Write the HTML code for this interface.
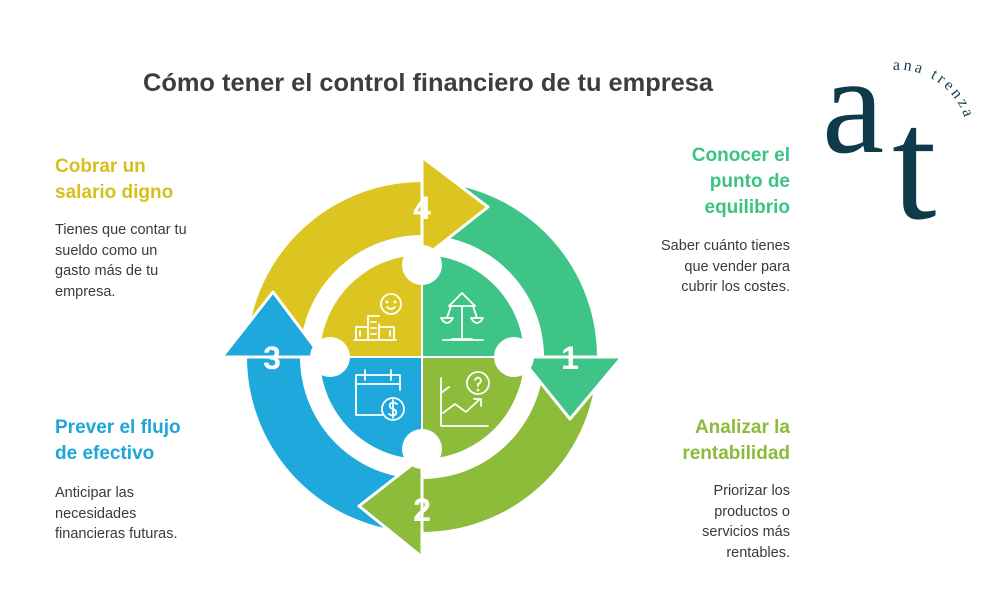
<!DOCTYPE html>
<html><head><meta charset="utf-8"><style>
body{margin:0;width:1000px;height:607px;background:#fff;position:relative;overflow:hidden;font-family:"Liberation Sans",sans-serif}
.t{position:absolute;white-space:nowrap}
.h{font-weight:bold;font-size:19px;line-height:26px}
.b{font-size:14.5px;line-height:20.5px;color:#3a3a3a}
.r{text-align:right}
</style></head><body>
<div class="t" style="left:143px;top:69px;font-size:25.4px;font-weight:bold;color:#3d3d3d">Cómo tener el control financiero de tu empresa</div>

<div class="t h" style="left:55px;top:154px;color:#D6C01E">Cobrar un<br>salario digno</div>
<div class="t b" style="left:55px;top:220px">Tienes que contar tu<br>sueldo como un<br>gasto más de tu<br>empresa.</div>

<div class="t h r" style="right:210px;top:143px;color:#3CC383">Conocer el<br>punto de<br>equilibrio</div>
<div class="t b r" style="right:210px;top:236px">Saber cuánto tienes<br>que vender para<br>cubrir los costes.</div>

<div class="t h" style="left:55px;top:415px;color:#1EA6D9">Prever el flujo<br>de efectivo</div>
<div class="t b" style="left:55px;top:483px">Anticipar las<br>necesidades<br>financieras futuras.</div>

<div class="t h r" style="right:210px;top:415px;color:#8CBA3A">Analizar la<br>rentabilidad</div>
<div class="t b r" style="right:210px;top:481px">Priorizar los<br>productos o<br>servicios más<br>rentables.</div>

<svg width="1000" height="607" style="position:absolute;left:0;top:0">
<g>
<path d="M422 182 A175 175 0 0 1 597 357 L544 357 A122 122 0 0 0 422 235Z" fill="#3EC486"/>
<path d="M597 357 A175 175 0 0 1 422 532 L422 479 A122 122 0 0 0 544 357Z" fill="#8DBB3A"/>
<path d="M422 532 A175 175 0 0 1 247 357 L300 357 A122 122 0 0 0 422 479Z" fill="#1FA8DC"/>
<path d="M247 357 A175 175 0 0 1 422 182 L422 235 A122 122 0 0 0 300 357Z" fill="#DCC520"/>
<path d="M520 357 L622 357 L570 419Z" fill="#3EC486" stroke="#fff" stroke-width="3" stroke-linejoin="round"/>
<path d="M422 457 L422 557 L359 506Z" fill="#8DBB3A" stroke="#fff" stroke-width="3" stroke-linejoin="round"/>
<path d="M222 357 L322 357 L273 292Z" fill="#1FA8DC" stroke="#fff" stroke-width="3" stroke-linejoin="round"/>
<path d="M422 157 L422 259 L488 207Z" fill="#DCC520" stroke="#fff" stroke-width="3" stroke-linejoin="round"/>
</g>
<g font-family="Liberation Sans" font-weight="bold" font-size="32" fill="#fff" text-anchor="middle">
<text x="422" y="219">4</text><text x="570" y="369">1</text><text x="422" y="521">2</text><text x="272" y="369">3</text>
</g>
<path d="M422 357 L422 255 A102 102 0 0 0 320 357Z" fill="#DCC520"/>
<path d="M422 357 L524 357 A102 102 0 0 0 422 255Z" fill="#3EC486"/>
<path d="M422 357 L422 459 A102 102 0 0 0 524 357Z" fill="#8DBB3A"/>
<path d="M422 357 L320 357 A102 102 0 0 0 422 459Z" fill="#1FA8DC"/>
<line x1="422" y1="250" x2="422" y2="464" stroke="#fff" stroke-width="2"/>
<line x1="315" y1="357" x2="529" y2="357" stroke="#fff" stroke-width="2"/>
<g fill="#fff"><circle cx="422" cy="265" r="20"/><circle cx="514" cy="357" r="20"/><circle cx="422" cy="449" r="20"/><circle cx="330" cy="357" r="20"/></g>
<g fill="none" stroke="#fff" stroke-width="1.8" stroke-linecap="round" stroke-linejoin="round">
<circle cx="391" cy="304" r="10"/><circle cx="387" cy="302" r=".6"/><circle cx="395" cy="302" r=".6"/><path d="M387 307 Q391 311 395 307"/>
<path d="M368 340 V316 H379 M356 340 V327 H368 M379 324 V340 M379 327 H394 V340 M354 340 H396 M360 331 V336 M390 331 V336 M371 322 H376 M371 328 H376 M371 334 H376"/>
<path d="M462 293 L449 306 H475 Z M462 306 V339 M452 339 H472 M451 306 L447 318 M473 306 L477 318 M441 318 H453 Q447 328 441 318 M471 318 H483 Q477 328 471 318 M443 340 H483"/>
<path d="M356 375 H400 V390 M356 375 V415 H382 M356 384 H400 M365 370 V380 M391 370 V380"/>
<circle cx="393" cy="409" r="11"/><path d="M397 404 Q393 401 390 404 Q389 408 393 409 Q397 410 396 414 Q393 417 389 414 M393 400 V418"/>
<path d="M441 378 V426 H488 M441 393 L449 387 M443 413 L455 404 L466 412 L480 399 M474 399 H481 V406"/>
<circle cx="478" cy="383" r="11"/><path d="M475 380 Q478 375 481 380 Q481 383 478 384 V386"/><circle cx="478" cy="390" r=".5"/>
</g>
<defs><path id="arc" d="M893 70 A70 70 0 0 1 968 145"/></defs>
<text font-family="Liberation Serif" font-size="16" fill="#123d4c" letter-spacing="3"><textPath href="#arc">ana trenza</textPath></text>
<text x="822" y="152" font-family="Liberation Serif" font-size="140" fill="#0f3a4a">a</text>
<text x="892" y="218" font-family="Liberation Serif" font-size="160" fill="#0f3a4a">t</text>
</svg>
</body></html>
